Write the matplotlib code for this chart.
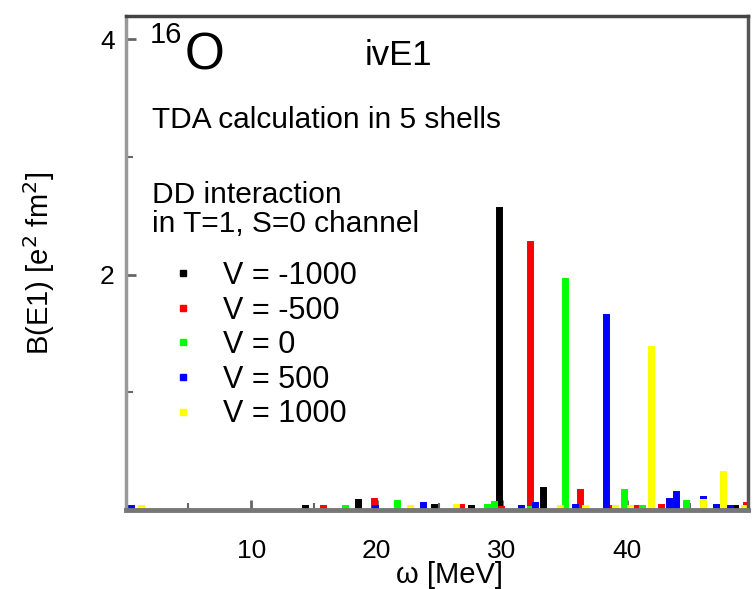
''' B(E1) strength of the isovector E1 response in 16O for several DD strengths '''
import matplotlib
matplotlib.use('Agg')
import matplotlib.pyplot as plt
from matplotlib.lines import Line2D

plt.rcParams['font.family'] = ['Liberation Sans', 'DejaVu Sans']

# transition energies [MeV] and strengths [e^2 fm^2] for each V
V_LABELS = ['V = -1000', 'V = -500', 'V = 0', 'V = 500', 'V = 1000']
COLORS = ['black', '#ff0000', '#00ff00', '#0000ff', '#ffff00']

omega_m1000 = [14.3, 18.5, 24.6, 27.5, 29.8, 33.3, 48.6]
bE1_m1000 = [0.02, 0.07, 0.03, 0.02, 2.55, 0.17, 0.02]

omega_m500 = [15.7, 19.8, 26.7, 29.9, 32.2, 36.2, 38.7, 40.7, 42.7, 49.5]
bE1_m500 = [0.02, 0.08, 0.03, 0.01, 2.26, 0.15, 0.02, 0.02, 0.03, 0.04]

omega_0 = [0.0, 17.5, 21.6, 28.8, 29.4, 32.2, 35.0, 39.7, 41.2, 44.7]
bE1_0 = [0.02, 0.02, 0.06, 0.03, 0.05, 0.01, 1.95, 0.15, 0.02, 0.06]

omega_500 = [0.4, 19.9, 23.7, 31.5, 32.6, 35.8, 38.3, 43.3, 43.9, 46.0, 47.1, 48.2]
bE1_500 = [0.02, 0.02, 0.04, 0.02, 0.04, 0.03, 1.64, 0.08, 0.14, 0.09, 0.03, 0.02]

omega_1000 = [1.2, 22.7, 26.3, 34.6, 36.6, 39.0, 40.2, 41.9, 46.0, 47.6, 49.3]
bE1_1000 = [0.02, 0.02, 0.03, 0.02, 0.02, 0.02, 0.02, 1.37, 0.07, 0.31, 0.02]

series = [(omega_m1000, bE1_m1000), (omega_m500, bE1_m500), (omega_0, bE1_0),
          (omega_500, bE1_500), (omega_1000, bE1_1000)]

fig = plt.figure(figsize=(7.53, 5.89), dpi=100)
ax = fig.add_axes([0.167, 0.134, 0.826, 0.839])

for (om, b), col in zip(series, COLORS):
    lc = ax.vlines(om, 0, b, colors=col, linewidth=5)
    lc.set_capstyle('projecting')

ax.set_xlim(0, 49.6)
ax.set_ylim(0, 4.2)
ax.set_xticks([10, 20, 30, 40])
ax.set_xticks([5, 15, 25, 35, 45], minor=True)
ax.set_yticks([2, 4])
ax.set_yticks([1, 3], minor=True)
ax.tick_params(which='both', direction='in', colors='#666666', labelcolor='black')
ax.tick_params(axis='x', which='major', labelsize=19, length=7, width=2, pad=21)
ax.tick_params(axis='y', which='major', labelsize=19, length=7, width=2, pad=8)
ax.tick_params(which='minor', length=5, width=1.5)

ax.spines['left'].set_color('#999999')
ax.spines['left'].set_linewidth(2.5)
ax.spines['top'].set_color('#444444')
ax.spines['top'].set_linewidth(2.5)
ax.spines['right'].set_color('#555555')
ax.spines['right'].set_linewidth(2.5)
ax.spines['bottom'].set_color('#777777')
ax.spines['bottom'].set_linewidth(3.5)

ax.set_xlabel('ω [MeV]', fontsize=21)
ax.xaxis.set_label_coords(0.52, -0.103)
ax.set_ylabel('B(E1) [e$^2$ fm$^2$]', fontsize=21, labelpad=31)

ax.text(0.039, 0.945, '16', transform=ax.transAxes, fontsize=21, va='baseline')
ax.text(0.094, 0.891, 'O', transform=ax.transAxes, fontsize=37, va='baseline')
ax.text(0.384, 0.901, 'ivE1', transform=ax.transAxes, fontsize=25, va='baseline')
ax.text(0.042, 0.773, 'TDA calculation in 5 shells', transform=ax.transAxes,
        fontsize=21.5, va='baseline')
ax.text(0.042, 0.621, 'DD interaction', transform=ax.transAxes, fontsize=21.5, va='baseline')
ax.text(0.042, 0.563, 'in T=1, S=0 channel', transform=ax.transAxes, fontsize=21.5,
        va='baseline')

handles = [Line2D([], [], marker='s', linestyle='none', color=c, markersize=4.5)
           for c in COLORS]
ax.legend(handles, V_LABELS, loc='upper left', bbox_to_anchor=(0.077, 0.504),
          frameon=False, fontsize=22, handlelength=0.6, handletextpad=1.0,
          labelspacing=0.15, borderpad=0, borderaxespad=0)

fig.savefig('out.png', dpi=100)
